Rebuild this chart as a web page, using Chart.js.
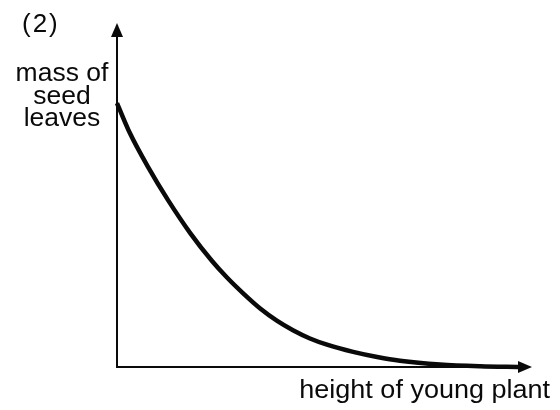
<!DOCTYPE html>
<html>
<head>
<meta charset="utf-8">
<script src="https://cdn.jsdelivr.net/npm/chart.js@4.4.0/dist/chart.umd.min.js"></script>
<style>
  html, body { margin: 0; padding: 0; background: #fff; }
  #wrap { width: 560px; height: 410px; }
</style>
</head>
<body>
<div id="wrap"><canvas id="seedChart" width="560" height="410"></canvas></div>
<script>
// height of young plant (arbitrary units, 0..100 along the x axis)
const plantHeight = [0, 3.1, 7.5, 12.3, 17.6, 22.9, 26.5, 30.4, 34.5, 38.6, 42.4, 46.5, 50.6, 56.9, 62.7, 68.2, 77.8, 87.5, 97.1];
// mass of seed leaves (arbitrary units, 0..100 along the y axis)
const seedMass = [76.7, 68.0, 58.1, 48.5, 39.0, 30.8, 26.0, 21.4, 17.0, 13.4, 10.7, 8.3, 6.5, 4.4, 2.9, 1.8, 0.7, 0.2, 0];

const panelLabel = '(2)';
const yLabelLines = ['mass of', 'seed', 'leaves'];
const xLabel = 'height of young plant';

const FONT = '"Liberation Sans", Arial, sans-serif';
const INK = '#0a0a0a';

// draws the two arrowed axes and the text labels
const sketchAxes = {
    id: 'sketchAxes',
    beforeDatasetsDraw(chart) {
        const { ctx, chartArea: a } = chart;
        ctx.save();
        ctx.strokeStyle = INK;
        ctx.fillStyle = INK;
        ctx.lineWidth = 2;
        ctx.beginPath();
        ctx.moveTo(a.left, a.top + 6);
        ctx.lineTo(a.left, a.bottom);
        ctx.lineTo(a.right - 6, a.bottom);
        ctx.stroke();

        // y arrow head
        ctx.beginPath();
        ctx.moveTo(a.left, a.top);
        ctx.lineTo(a.left - 6, a.top + 14);
        ctx.lineTo(a.left + 6, a.top + 14);
        ctx.closePath();
        ctx.fill();
        // x arrow head
        ctx.beginPath();
        ctx.moveTo(a.right, a.bottom);
        ctx.lineTo(a.right - 14, a.bottom - 6);
        ctx.lineTo(a.right - 14, a.bottom + 6);
        ctx.closePath();
        ctx.fill();
        ctx.restore();
    },
    afterDraw(chart) {
        const { ctx } = chart;
        ctx.save();
        ctx.fillStyle = INK;
        ctx.font = '25px ' + FONT;
        ctx.textBaseline = 'alphabetic';

        ctx.save();
        ctx.font = '26px ' + FONT;
        ctx.letterSpacing = '2px';
        ctx.textAlign = 'left';
        ctx.fillText(panelLabel, 22, 32);
        ctx.restore();

        // y label, centred, slightly stretched
        yLabelLines.forEach((line, i) => {
            ctx.save();
            ctx.translate(62, 81 + i * 22.5);
            ctx.scale(1.06, 1);
            ctx.textAlign = 'center';
            ctx.fillText(line, 0, 0);
            ctx.restore();
        });

        ctx.save();
        ctx.translate(550, 398);
        ctx.scale(1.08, 1);
        ctx.textAlign = 'right';
        ctx.fillText(xLabel, 0, 0);
        ctx.restore();
        ctx.restore();
    }
};

new Chart(document.getElementById('seedChart'), {
    type: 'scatter',
    data: {
        datasets: [{
            data: plantHeight.map((x, i) => ({ x, y: seedMass[i] })),
            showLine: true,
            borderColor: INK,
            borderWidth: 4.5,
            pointRadius: 0,
            cubicInterpolationMode: 'monotone',
            clip: false
        }]
    },
    options: {
        responsive: false,
        animation: false,
        layout: { padding: { left: 117, right: 28, top: 23, bottom: 43 } },
        plugins: { legend: { display: false }, tooltip: { enabled: false } },
        scales: {
            x: { type: 'linear', min: 0, max: 100, display: false },
            y: { type: 'linear', min: 0, max: 100, display: false }
        }
    },
    plugins: [sketchAxes]
});
</script>
</body>
</html>
